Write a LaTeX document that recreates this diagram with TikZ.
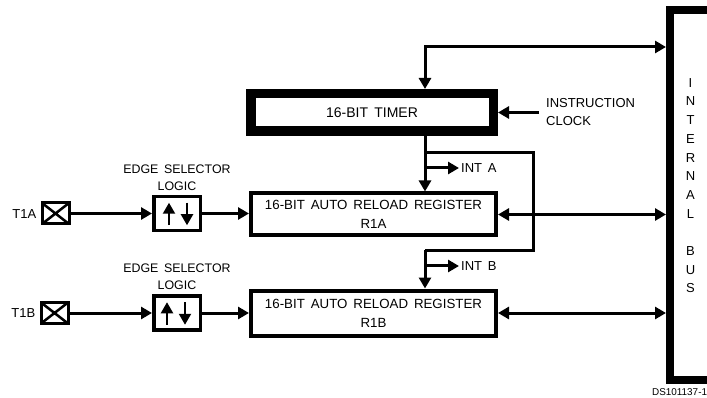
\documentclass[tikz,border=0pt]{standalone}
\usepackage{fontspec}
\setmainfont{Liberation Sans}[WordSpace=1.6]
\usetikzlibrary{arrows.meta,positioning}
\tikzset{lbl/.style={font=\fontsize{13}{18}\selectfont,align=center,inner sep=0pt}}
\tikzset{timerbox/.style={lbl,font=\fontsize{14}{18}\selectfont,draw,line width=9.5pt,minimum width=242.5pt,minimum height=37.5pt}}
\tikzset{register/.style={lbl,font=\fontsize{13.3}{19}\selectfont,draw,line width=4pt,minimum width=245pt}}
\tikzset{edgebox/.style={draw,line width=3.5pt,minimum width=46.5pt,minimum height=34pt}}
\tikzset{pad/.style={draw,line width=3pt,minimum width=27pt,minimum height=21pt,
    path picture={\draw[line width=2.5pt] (path picture bounding box.north west) -- (path picture bounding box.south east)
    (path picture bounding box.south west) -- (path picture bounding box.north east);}}}
\tikzset{busbox/.style={lbl,font=\fontsize{13}{18.7}\selectfont,draw,line width=8pt,minimum width=41pt,minimum height=369pt}}
\tikzset{wire/.style={line width=3pt,-{Triangle[length=11pt,width=12pt]}}}
\tikzset{bothwire/.style={line width=3pt,{Triangle[length=11pt,width=12pt]}-{Triangle[length=11pt,width=12pt]}}}
\tikzset{plainwire/.style={line width=3pt}}
\tikzset{edgearrow/.style={line width=2.2pt,-{Triangle[length=11pt,width=12pt]}}}

\begin{document}
\begin{tikzpicture}[x=1pt,y=-1pt]
    \clip (0,0) rectangle (707,398);
    \node[timerbox] (timer) at (372,112.5) {16-BIT TIMER};
    \node[register,minimum height=42pt,below of=timer,node distance=102pt,xshift=1.5pt] (ra) {16-BIT AUTO RELOAD REGISTER\\R1A};
    \node[register,minimum height=45pt,below of=ra,node distance=98.5pt] (rb) {16-BIT AUTO RELOAD REGISTER\\R1B};
    \node[busbox] (bus) at (690.5,195) {I\\N\\T\\E\\R\\N\\A\\L\\~\\B\\U\\S\\~};

    \node[edgebox,left of=ra,node distance=196.5pt,yshift=1pt] (edgea) {};
    \node[edgebox,left of=rb,node distance=196.5pt] (edgeb) {};
    \node[pad,left of=edgea,node distance=121.5pt] (pada) {};
    \node[pad,left of=edgeb,node distance=122.5pt] (padb) {};

    \node[lbl,left=4pt of pada,yshift=-1pt] (ta) {T1A};
    \node[lbl,left=4pt of padb] (tb) {T1B};
    \node[lbl,font=\fontsize{12.4}{17}\selectfont,above of=edgea,node distance=36pt] (la) {EDGE SELECTOR\\LOGIC};
    \node[lbl,font=\fontsize{12.4}{17}\selectfont,above of=edgeb,node distance=36pt] (lb) {EDGE SELECTOR\\LOGIC};
    \node[lbl,align=left,anchor=west] (clock) at (546,112) {INSTRUCTION\\CLOCK};
    \node[lbl,anchor=west,inner xsep=2pt] (inta) at (459,168) {INT A};
    \node[lbl,anchor=west,inner xsep=2pt] (intb) at (459,266) {INT B};
    \node[anchor=west,inner sep=0pt,font=\fontsize{9.9}{12}\selectfont] (code) at (652,392) {DS101137-1};

    \coordinate (topbend) at (425,47);
    \coordinate (tapa) at (425,153);
    \coordinate (fba) at (533,153);
    \coordinate (fbb) at (533,250.5);
    \coordinate (fbc) at (425,250.5);

    \draw[bothwire] (topbend |- timer.north) -- (topbend) -- (topbend -| bus.west);
    \draw[wire] (clock.west |- timer.east) ++(-7,0) coordinate (clk) -- (timer.east);
    \draw[wire] (tapa |- timer.south) -- (tapa |- ra.north);
    \draw[plainwire] (tapa) -- (fba) -- (fbb) -- (fbc);
    \draw[wire] (fbc) -- (fbc |- rb.north);
    \draw[wire] (tapa |- inta.west) -- (inta.west);
    \draw[wire] (fbc |- intb.west) -- (intb.west);

    \draw[wire] (pada.east) -- (pada.east -| edgea.west);
    \draw[wire] (padb.east) -- (padb.east -| edgeb.west);
    \draw[wire] (edgea.east) -- (edgea.east -| ra.west);
    \draw[wire] (edgeb.east) -- (edgeb.east -| rb.west);
    \draw[bothwire] (ra.east) -- (ra.east -| bus.west);
    \draw[bothwire] (rb.east) -- (rb.east -| bus.west);

    \draw[edgearrow] ([xshift=-8pt,yshift=7pt]edgea.south) -- ([xshift=-8pt,yshift=-8pt]edgea.north);
    \draw[edgearrow] ([xshift=10pt,yshift=-8pt]edgea.north) -- ([xshift=10pt,yshift=7pt]edgea.south);
    \draw[edgearrow] ([xshift=-10pt,yshift=7pt]edgeb.south) -- ([xshift=-10pt,yshift=-8pt]edgeb.north);
    \draw[edgearrow] ([xshift=8pt,yshift=-8pt]edgeb.north) -- ([xshift=8pt,yshift=7pt]edgeb.south);
\end{tikzpicture}
\end{document}
